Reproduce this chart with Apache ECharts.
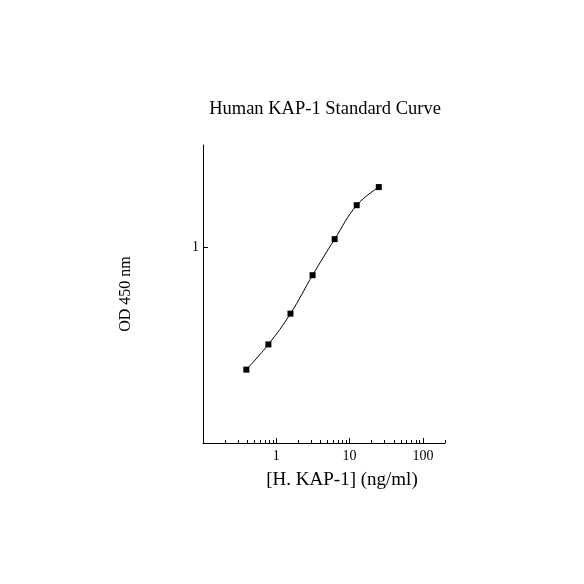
<!DOCTYPE html>
<html><head><meta charset="utf-8">
<script src="https://cdn.jsdelivr.net/npm/echarts@6/dist/echarts.min.js"></script>
<style>html,body{margin:0;padding:0;background:#fff}#c{width:584px;height:584px}</style>
</head><body><div id="c"></div>
<script>
const concentrations = [0.39, 0.78, 1.56, 3.125, 6.25, 12.5, 25];
const odValues = [0.237, 0.319, 0.458, 0.72, 1.10, 1.64, 2.03];
const xMajorTicks = [1, 10, 100];
const xMinorTicks = [0.2,0.3,0.4,0.5,0.6,0.7,0.8,0.9,2,3,4,5,6,7,8,9,20,30,40,50,60,70,80,90,200];
const yMajorTicks = [1];

const FONT = '"Liberation Serif", "Times New Roman", serif';
const chart = echarts.init(document.getElementById('c'));
const grid = {left: 203, right: 139, top: 145, bottom: 141};
chart.setOption({
  animation: false,
  backgroundColor: '#fff',
  title: [
    {text: 'Human KAP-1 Standard Curve', left: 320, top: 95, textAlign: 'center',
     textStyle: {fontFamily: FONT, fontSize: 18.5, fontWeight: 'normal', color: '#000'}},
    {text: '[H. KAP-1] (ng/ml)', left: 337, top: 466, textAlign: 'center',
     textStyle: {fontFamily: FONT, fontSize: 19, fontWeight: 'normal', color: '#000'}}
  ],
  grid: grid,
  xAxis: [
    {type: 'log', logBase: 10, min: 0.1, max: 200,
     axisLine: {onZero: false, lineStyle: {color: '#000', width: 1}},
     axisTick: {show: true, inside: true, length: 5, customValues: xMajorTicks, lineStyle: {color: '#000'}},
     axisLabel: {show: true, customValues: xMajorTicks, margin: 6, color: '#000', fontFamily: FONT, fontSize: 14},
     splitLine: {show: false}, minorTick: {show: false}},
    {type: 'log', logBase: 10, min: 0.1, max: 200, position: 'bottom',
     axisLine: {show: false},
     axisTick: {show: true, inside: true, length: 3, customValues: xMinorTicks, lineStyle: {color: '#000'}},
     axisLabel: {show: false},
     splitLine: {show: false}}
  ],
  yAxis: {type: 'log', logBase: 10, min: 0.1, max: 3.33,
    name: 'OD 450 nm', nameLocation: 'middle', nameGap: 69, nameRotate: 90,
    nameTextStyle: {fontFamily: FONT, fontSize: 16, color: '#000'},
    axisLine: {onZero: false, lineStyle: {color: '#000', width: 1}},
    axisTick: {show: true, inside: true, length: 5, customValues: yMajorTicks, lineStyle: {color: '#000'}},
    axisLabel: {show: true, customValues: yMajorTicks, margin: 4, color: '#000', fontFamily: FONT, fontSize: 14},
    splitLine: {show: false}},
  series: [{
    type: 'line', xAxisIndex: 0,
    data: concentrations.map((c, i) => [c, odValues[i]]),
    smooth: 0.4, symbol: 'rect', symbolSize: 6,
    lineStyle: {color: '#000', width: 1},
    itemStyle: {color: '#000'}
  }]
});
</script></body></html>
